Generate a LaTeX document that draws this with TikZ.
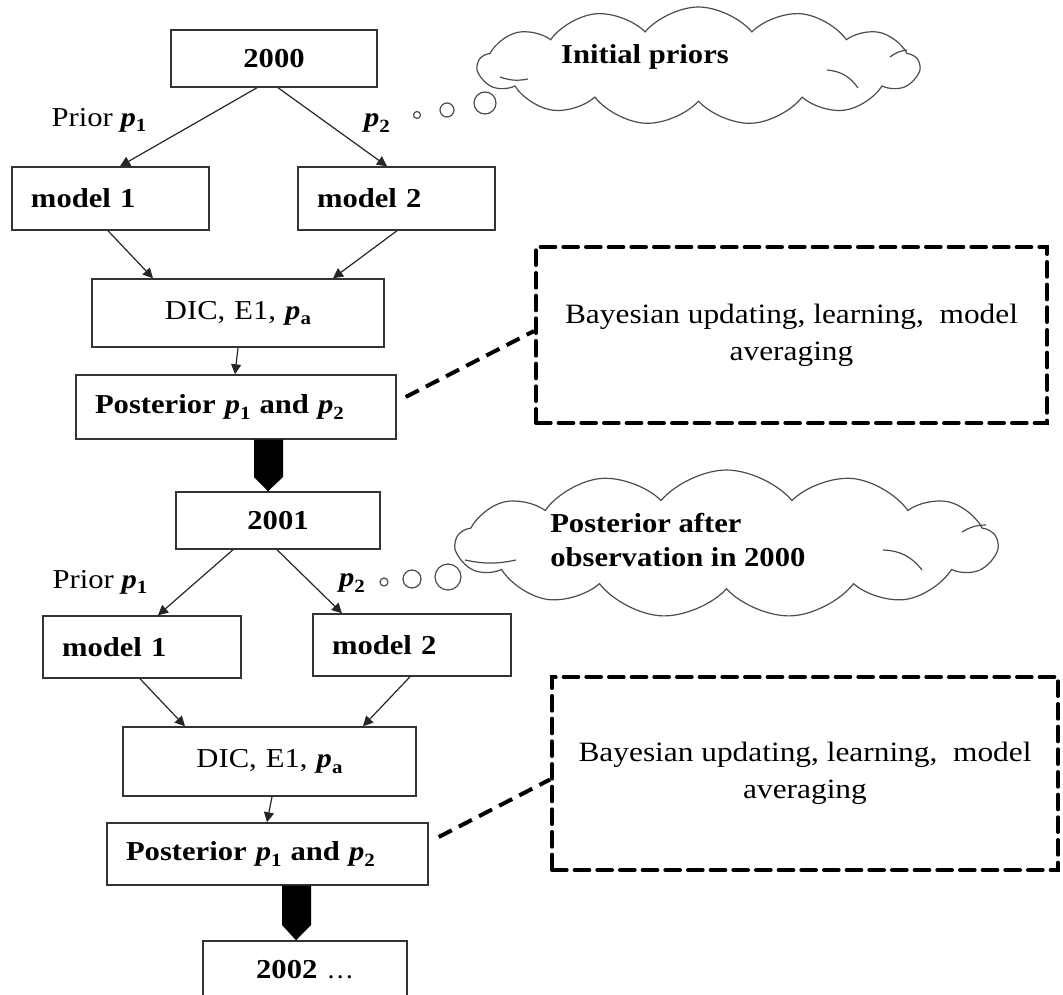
\documentclass[tikz,border=0pt]{standalone}
\usepackage{fontspec}
\setmainfont{Liberation Serif}
\newfontfamily\lblf{Liberation Serif}[FakeStretch=1.12]
\usetikzlibrary{arrows.meta,calc,shapes.symbols}
\newlength{\PX}\setlength{\PX}{0.75pt}
\newcommand\pp[1]{\textbf{\textit{p}}\raisebox{-0.45ex}{\fontsize{14}{14}\selectfont\bfseries #1}}
\begin{document}
\begin{tikzpicture}[x=0.75pt,y=-0.75pt,
  box/.style={draw=black!80, line width=1.1pt, fill=white, inner ysep=0pt, inner xsep=19\PX,
    font=\lblf\fontsize{20.5}{24}\selectfont},
  lbox/.style={box, align=left},
  cbox/.style={box, align=center},
  arr/.style={draw=black!85, line width=0.9pt, -{Triangle[length=7.5pt,width=7.5pt]}},
  dbox/.style={draw=black, line width=3pt, dash pattern=on 11pt off 6pt, line cap=round, align=center,
    inner sep=0pt, font=\lblf\fontsize{21}{27.75}\selectfont},
  dline/.style={draw=black, line width=3pt, dash pattern=on 11pt off 6pt},
  thk/.style={fill=black},
  cloudst/.style={cloud, draw=black!70, line width=0.9pt, cloud puffs=13, cloud puff arc=100, inner sep=0pt},
  crease/.style={draw=black!70, line width=0.9pt},
  bub/.style={circle, draw=black!70, line width=0.9pt, inner sep=0pt},
  lab/.style={inner sep=0pt, font=\lblf\fontsize{20.5}{24}\selectfont}]
\useasboundingbox (0,0) rectangle (1063,995);

% ---- year 2000 ----
\node[cbox, text width=168\PX, minimum height=57\PX] (n2000) at (274,58.5) {\bfseries 2000};
\node[lbox, text width=159\PX, minimum height=63\PX] (m1a) at (110.5,198.5) {\bfseries model 1};
\node[lbox, text width=159\PX, minimum height=63\PX] (m2a) at (396.5,198.5) {\bfseries model 2};
\node[cbox, text width=254\PX, minimum height=68\PX] (dic1) at (238,313) {DIC, E1, \pp{a}};
\node[lbox, text width=282\PX, minimum height=64\PX] (post1) at (236,407) {\bfseries Posterior \pp{1} and \pp{2}};

\node[lab] (pr1) at (99,120) {Prior \pp{1}};
\node[lab] (q1) at (377,123) {\pp{2}};

\draw[arr] ($(n2000.south)+(-17,0)$) -- ($(m1a.north)+(9.5,0)$);
\draw[arr] ($(n2000.south)+(4,0)$) -- ($(m2a.north)+(-9.5,0)$);
\draw[arr] ($(m1a.south)+(-2.5,0)$) -- ($(dic1.north)+(-85,0)$);
\draw[arr] ($(m2a.south)+(0.5,0)$) -- ($(dic1.north)+(95,0)$);
\draw[arr] (dic1.south) -- ($(post1.north)+(-1,0)$);

% ---- year 2001 ----
\node[cbox, text width=166\PX, minimum height=57\PX] (n2001) at (278,520.5) {\bfseries 2001};
\fill[thk] (post1.south -| 254,0) -- (post1.south -| 283,0) -- (283,477) -- (n2001.north -| 268,0) -- (254,477) -- cycle;

\node[lbox, text width=160\PX, minimum height=62\PX] (m1b) at (142,647) {\bfseries model 1};
\node[lbox, text width=160\PX, minimum height=62\PX] (m2b) at (412,645) {\bfseries model 2};
\node[cbox, text width=255\PX, minimum height=69\PX] (dic2) at (269.5,761.5) {DIC, E1, \pp{a}};
\node[lbox, text width=283\PX, minimum height=62\PX] (post2) at (267.5,854) {\bfseries Posterior \pp{1} and \pp{2}};

\node[lab] (pr2) at (100,582) {Prior \pp{1}};
\node[lab] (q2) at (352,583) {\pp{2}};

\draw[arr] ($(n2001.south)+(-45,0)$) -- ($(m1b.north)+(16,0)$);
\draw[arr] ($(n2001.south)+(-1,0)$) -- ($(m2b.north)+(-70,0)$);
\draw[arr] ($(m1b.south)+(-2,0)$) -- ($(dic2.north)+(-84.5,0)$);
\draw[arr] ($(m2b.south)+(-2,0)$) -- ($(dic2.north)+(93.5,0)$);
\draw[arr] ($(dic2.south)+(2.5,0)$) -- ($(post2.north)+(-0.5,0)$);

% ---- year 2002 ----
\node[cbox, text width=166\PX, minimum height=57\PX] (n2002) at (305,969.5) {\bfseries 2002 \normalfont\dots};
\fill[thk] (post2.south -| 282,0) -- (post2.south -| 311,0) -- (311,925) -- (n2002.north -| 296,0) -- (282,925) -- cycle;

% ---- clouds ----
\node[cloudst, minimum width=441\PX, minimum height=118\PX, aspect=3.74] (cl1) at (698.5,66) {};
\draw[crease] ($(cl1.center)+(-198.5,11)$) to[bend right=15] ($(cl1.center)+(-170.5,13)$);
\draw[crease] ($(cl1.center)+(128.5,4)$) to[bend left=25] ($(cl1.center)+(159.5,22)$);
\draw[crease] ($(cl1.center)+(191.5,-9)$) to[bend left=15] ($(cl1.center)+(208.5,-16)$);
\node[lab] (cl1t) at (645,57) {\bfseries Initial priors};
\node[bub, minimum size=7\PX] (b1a) at (417,115) {};
\node[bub, minimum size=14\PX] (b1b) at (447,110) {};
\node[bub, minimum size=22\PX] (b1c) at (485,103) {};

\node[cloudst, minimum width=541\PX, minimum height=148\PX, aspect=3.66] (cl2) at (726.5,544) {};
\draw[crease] ($(cl2.center)+(-261.5,16)$) to[bend right=12] ($(cl2.center)+(-210.5,16)$);
\draw[crease] ($(cl2.center)+(156.5,6)$) to[bend left=25] ($(cl2.center)+(195.5,26)$);
\draw[crease] ($(cl2.center)+(235.5,-12)$) to[bend left=15] ($(cl2.center)+(259.5,-19)$);
\node[lab, anchor=west, align=left, font=\lblf\fontsize{20.5}{25.5}\selectfont] (cl2t) at (550,540) {\bfseries Posterior after\\\bfseries observation in 2000};
\node[bub, minimum size=8\PX] (b2a) at (384,582) {};
\node[bub, minimum size=18\PX] (b2b) at (412,579) {};
\node[bub, minimum size=26\PX] (b2c) at (448,577) {};

% ---- dashed notes ----
\node[dbox, minimum width=511\PX, minimum height=176\PX] (db1) at (791.5,335) {Bayesian updating, learning,~ model\\averaging};
\node[dbox, minimum width=506\PX, minimum height=193\PX] (db2) at (805,773.5) {Bayesian updating, learning,~ model\\averaging};

\coordinate (d1s) at ($(post1.east)+(9,-10)$);
\draw[dline] (d1s) -- ($(db1.west)+(0,-4)$);
\coordinate (d2s) at ($(post2.east)+(10,-17)$);
\draw[dline] (d2s) -- ($(db2.west)+(0,6)$);
\end{tikzpicture}
\end{document}
